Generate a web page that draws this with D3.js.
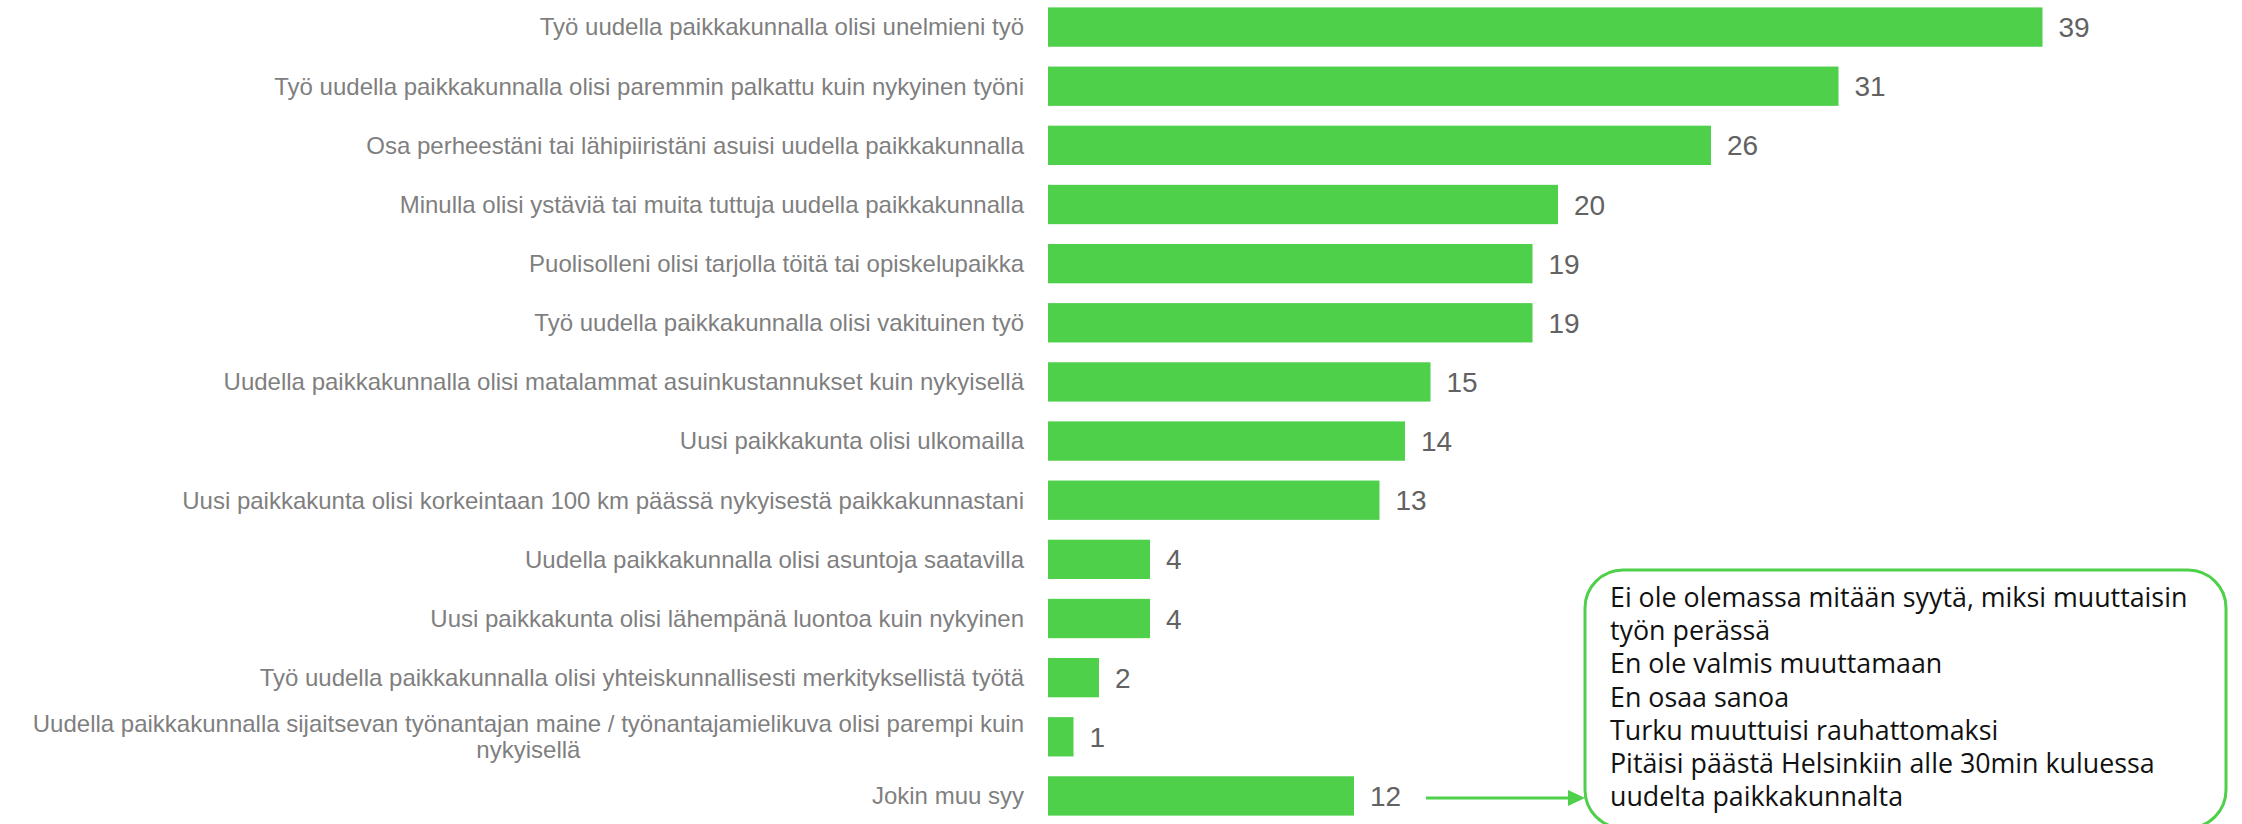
<!DOCTYPE html>
<meta charset="utf-8">
<style>
body {
  margin: 0;
  background: #fff;
}

.label {
  font-family: "Liberation Sans", Arial, sans-serif;
  font-size: 24px;
  fill: #7f7f7f;
}

.value {
  font-family: "Liberation Sans", Arial, sans-serif;
  font-size: 28px;
  fill: #626262;
}

.bar {
  fill: #4ed04a;
}

.note text {
  font-family: "Open Sans", sans-serif;
  font-size: 26.8px;
  fill: #111;
}
</style>
<body>
<script src="https://cdn.jsdelivr.net/npm/d3@7"></script>
<script>
var categories = [
  "Työ uudella paikkakunnalla olisi unelmieni työ",
  "Työ uudella paikkakunnalla olisi paremmin palkattu kuin nykyinen työni",
  "Osa perheestäni tai lähipiiristäni asuisi uudella paikkakunnalla",
  "Minulla olisi ystäviä tai muita tuttuja uudella paikkakunnalla",
  "Puolisolleni olisi tarjolla töitä tai opiskelupaikka",
  "Työ uudella paikkakunnalla olisi vakituinen työ",
  "Uudella paikkakunnalla olisi matalammat asuinkustannukset kuin nykyisellä",
  "Uusi paikkakunta olisi ulkomailla",
  "Uusi paikkakunta olisi korkeintaan 100 km päässä nykyisestä paikkakunnastani",
  "Uudella paikkakunnalla olisi asuntoja saatavilla",
  "Uusi paikkakunta olisi lähempänä luontoa kuin nykyinen",
  "Työ uudella paikkakunnalla olisi yhteiskunnallisesti merkityksellistä työtä",
  "Uudella paikkakunnalla sijaitsevan työnantajan maine / työnantajamielikuva olisi parempi kuin nykyisellä",
  "Jokin muu syy"
];

var values = [39, 31, 26, 20, 19, 19, 15, 14, 13, 4, 4, 2, 1, 12];

// vapaat vastaukset "Jokin muu syy"
var otherReasons = [
  "Ei ole olemassa mitään syytä, miksi muuttaisin",
  "työn perässä",
  "En ole valmis muuttamaan",
  "En osaa sanoa",
  "Turku muuttuisi rauhattomaksi",
  "Pitäisi päästä Helsinkiin alle 30min kuluessa",
  "uudelta paikkakunnalta"
];

var width = 2242,
    height = 824,
    labelRight = 1024,
    labelMax = 1000;

var green = "#4ed04a";

var svg = d3.select("body").append("svg")
    .attr("width", width)
    .attr("height", height);

var x = d3.scaleLinear()
    .domain([0, 40])
    .range([1048, 2068]);

var y = d3.scaleBand()
    .domain(categories)
    .range([7.4, 815.6])
    .paddingInner(0.335)
    .paddingOuter(0);

var row = svg.selectAll(".row")
    .data(categories)
  .enter().append("g")
    .attr("class", "row")
    .attr("transform", function(d) { return "translate(0," + (y(d) + y.bandwidth() / 2) + ")"; });

row.append("rect")
    .attr("class", "bar")
    .attr("x", x(0))
    .attr("y", -y.bandwidth() / 2)
    .attr("height", y.bandwidth())
    .attr("width", function(d, i) { return x(values[i]) - x(0); });

row.append("text")
    .attr("class", "value")
    .attr("x", function(d, i) { return x(values[i]) + 16; })
    .attr("dy", "0.36em")
    .text(function(d, i) { return values[i]; });

// kategorianimet, pitkät rivitetään
row.append("text")
    .attr("class", "label")
    .attr("text-anchor", "end")
    .each(function(d) {
      var text = d3.select(this),
          words = d.split(" "),
          lines = [],
          line = [];
      var probe = text.append("tspan");
      words.forEach(function(w) {
        line.push(w);
        probe.text(line.join(" "));
        if (probe.node().getComputedTextLength() > labelMax && line.length > 1) {
          line.pop();
          lines.push(line.join(" "));
          line = [w];
        }
      });
      lines.push(line.join(" "));
      probe.remove();

      var lh = 26,
          top = -(lines.length - 1) * lh / 2,
          firstW = 0;
      lines.forEach(function(l, k) {
        var t = text.append("tspan")
            .attr("x", labelRight)
            .attr("y", top + k * lh)
            .attr("dy", "0.35em")
            .text(l);
        if (k === 0) firstW = t.node().getComputedTextLength();
        else t.attr("text-anchor", "middle").attr("x", labelRight - firstW / 2);
      });
    });

// selitelaatikko
var box = {x: 1585, y: 570, w: 641, h: 258, r: 38};

var note = svg.append("g").attr("class", "note");

note.append("rect")
    .attr("x", box.x)
    .attr("y", box.y)
    .attr("width", box.w)
    .attr("height", box.h)
    .attr("rx", box.r)
    .attr("fill", "none")
    .attr("stroke", green)
    .attr("stroke-width", 3);

note.selectAll("text")
    .data(otherReasons)
  .enter().append("text")
    .attr("x", box.x + 25)
    .attr("y", function(d, i) { return 607 + i * 33.2; })
    .text(function(d) { return d; });

// nuoli "Jokin muu syy" -> laatikko
var last = categories[categories.length - 1],
    ay = y(last) + y.bandwidth() / 2 + 2,
    ax0 = x(values[values.length - 1]) + 72,
    ax1 = box.x;

svg.append("line")
    .attr("x1", ax0)
    .attr("x2", ax1 - 14)
    .attr("y1", ay)
    .attr("y2", ay)
    .attr("stroke", green)
    .attr("stroke-width", 3);

svg.append("path")
    .attr("d", "M" + ax1 + "," + ay + "L" + (ax1 - 17) + "," + (ay - 8) + "L" + (ax1 - 17) + "," + (ay + 8) + "Z")
    .attr("fill", green);
</script>
